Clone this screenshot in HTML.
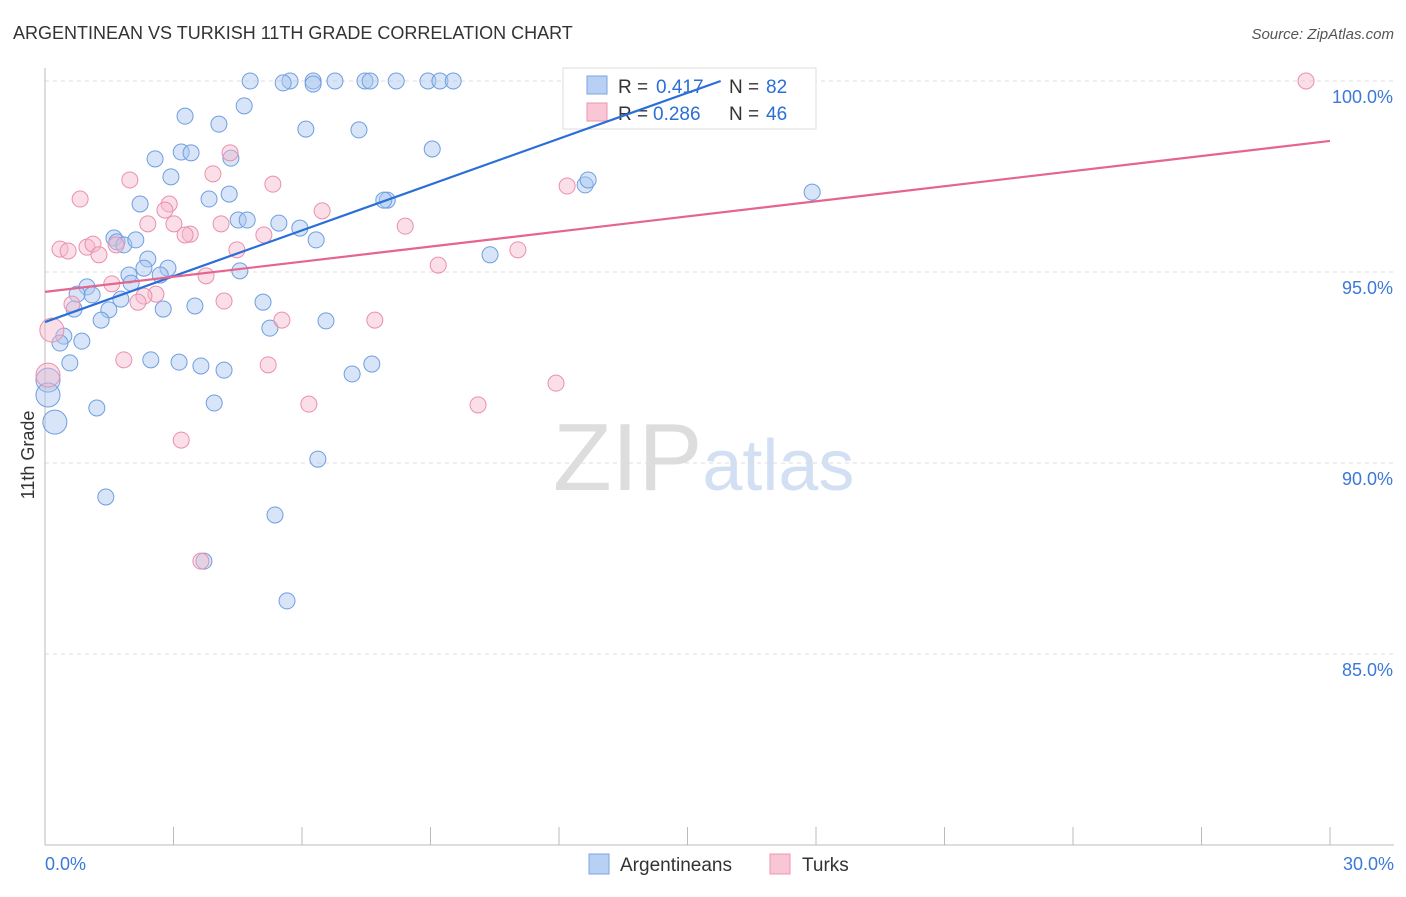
<!DOCTYPE html>
<html><head><meta charset="utf-8"><style>
body{margin:0;background:#fff;font-family:"Liberation Sans",sans-serif;}
svg text{font-family:"Liberation Sans",sans-serif;}
</style></head><body>
<svg id="chart" width="1406" height="892" viewBox="0 0 1406 892" xmlns="http://www.w3.org/2000/svg">
<text x="13" y="39" font-size="18" fill="#333">ARGENTINEAN VS TURKISH 11TH GRADE CORRELATION CHART</text>
<text x="1394" y="39" font-size="15" fill="#555" font-style="italic" text-anchor="end">Source: ZipAtlas.com</text>
<text x="553" y="490" font-size="96" fill="#ddd" font-family="Liberation Serif">ZIP<tspan fill="#d3e0f3" font-family="Liberation Sans" font-size="72">atlas</tspan></text>
<text transform="translate(34,455) rotate(-90)" font-size="18" fill="#333" text-anchor="middle">11th Grade</text>
<g id="grid"></g><g id="axes"></g><g id="pts"></g>
<g>
<rect x="563" y="68" width="253" height="61" fill="#fff" stroke="#ddd"/>
<rect x="587" y="76" width="20" height="18" fill="#b8d0f3" stroke="#7aa4e0"/>
<text x="618" y="93" font-size="19" fill="#333">R =</text>
<text x="656" y="93" font-size="19" fill="#2b6fd6">0.417</text>
<text x="729" y="93" font-size="19" fill="#333">N =</text>
<text x="766" y="93" font-size="19" fill="#2b6fd6">82</text>
<rect x="587" y="103" width="20" height="18" fill="#f8c6d4" stroke="#ec95b0"/>
<text x="618" y="120" font-size="19" fill="#333">R =</text>
<text x="653" y="120" font-size="19" fill="#2b6fd6">0.286</text>
<text x="729" y="120" font-size="19" fill="#333">N =</text>
<text x="766" y="120" font-size="19" fill="#2b6fd6">46</text>
</g>
<g id="lines"></g>
<g>
<rect x="589" y="854" width="20" height="20" fill="#b8d0f3" stroke="#7aa4e0"/>
<text x="620" y="871" font-size="19" fill="#333">Argentineans</text>
<rect x="770" y="854" width="20" height="20" fill="#f8c6d4" stroke="#ec95b0"/>
<text x="802" y="871" font-size="19" fill="#333">Turks</text>
</g>
</svg>
<script>
const blueX=[4.79,5.72,5.56,6.26,6.26,6.77,7.47,7.59,8.20,8.94,9.22,9.53,3.27,4.65,4.06,6.09,7.33,9.04,2.57,3.18,3.41,4.34,2.94,3.83,4.30,2.22,7.99,7.91,12.61,12.68,17.91,4.51,4.72,5.46,5.95,6.33,1.61,1.68,1.84,2.12,2.40,2.31,2.87,1.96,2.69,4.55,2.01,0.98,0.75,1.10,1.77,3.50,2.76,1.49,0.68,5.09,1.31,5.25,6.56,0.44,0.35,0.86,0.58,2.47,3.13,3.64,4.18,7.17,7.63,10.39,0.07,0.07,1.21,3.95,0.23,6.37,1.42,5.37,3.71,5.65];
const blueY=[100,100,99.95,100,99.92,100,100,100,100,100,100,100,99.08,99.35,98.87,98.74,98.72,98.22,97.96,98.14,98.12,97.98,97.49,96.91,97.04,96.78,96.88,96.88,97.28,97.41,97.09,96.36,96.36,96.28,96.15,95.84,95.89,95.79,95.71,95.84,95.34,95.10,95.10,94.92,94.92,95.03,94.71,94.61,94.42,94.40,94.29,94.11,94.03,94.01,94.03,94.21,93.74,93.53,93.72,93.32,93.14,93.19,92.62,92.70,92.64,92.54,92.43,92.33,92.59,95.45,92.17,91.78,91.44,91.57,91.07,90.10,89.11,88.64,87.43,86.39];
const pinkX=[12.30,29.44,4.32,3.92,1.98,5.32,0.82,2.90,2.80,2.40,3.01,4.11,6.47,8.41,3.39,3.27,5.11,0.35,0.54,0.98,1.12,1.26,1.66,4.48,11.04,12.19,9.18,3.76,1.56,2.59,2.31,0.63,2.17,4.18,5.53,7.70,0.16,1.84,5.21,11.93,0.07,6.16,10.11,3.18,3.64];
const pinkY=[100,100,98.12,97.57,97.41,97.30,96.91,96.78,96.62,96.26,96.26,96.26,96.60,96.20,95.99,95.97,95.97,95.60,95.55,95.65,95.73,95.45,95.71,95.58,95.58,97.25,95.18,94.90,94.69,94.42,94.37,94.16,94.21,94.24,93.74,93.74,93.48,92.70,92.57,92.09,92.30,91.54,91.52,90.60,87.43];
const blueLine=[93.69,0.4];
const pinkLine=[94.48,0.1317];
const yTicks=[100,95,90,85];
const xTickLabels=["0.0%","30.0%"];
const NS="http://www.w3.org/2000/svg";
const sx=v=>45+v*1285/30, sy=v=>81+(100-v)*38.2;
function mk(tag,attrs,parent){const e=document.createElementNS(NS,tag);for(const k in attrs)e.setAttribute(k,attrs[k]);document.getElementById(parent).appendChild(e);return e;}
yTicks.forEach(t=>{
 const l=mk('line',{x1:45,x2:1394,y1:sy(t),y2:sy(t),stroke:'#ddd','stroke-dasharray':'4,4'},'grid');
 
 
 const tx=mk('text',{x:1393,y:sy(t)+22,'font-size':18,fill:'#3b78d8','text-anchor':'end'},'grid');
 tx.textContent=t.toFixed(1)+'%';
 
 
});
const ax=mk('line',{x1:45,x2:45,y1:68,y2:845,stroke:'#bbb'},'axes');


const bx=mk('line',{x1:45,x2:1394,y1:845,y2:845,stroke:'#bbb'},'axes');


for(let i=0;i<=10;i++){const t=mk('line',{x1:sx(i*3),x2:sx(i*3),y1:827,y2:845,stroke:'#bbb'},'axes');
 
 }
[[0,'start',45],[30,'end',1394]].forEach((d,i)=>{const t=mk('text',{x:d[2],y:870,'font-size':18,fill:'#3b78d8','text-anchor':d[1]},'axes');t.textContent=xTickLabels[i];
 
 });
function pts(X,Y,fill,stroke,name){X.forEach((x,i)=>{const big=x<0.3;
 const c=mk('circle',{cx:sx(x),cy:sy(Y[i]),r:big?12:8,fill:fill,'fill-opacity':0.45,stroke:stroke,'stroke-width':1},'pts');
 
 });}
pts(blueX,blueY,'#a9c6f0','#6f9ee0','argentinean-point');
pts(pinkX,pinkY,'#f6b8cb','#ea90ac','turk-point');
const bEnd=(100-blueLine[0])/blueLine[1];
const bl=mk('line',{x1:sx(0),y1:sy(blueLine[0]),x2:sx(bEnd),y2:sy(100),stroke:'#2a6fd8','stroke-width':2.2},'lines');


const pl=mk('line',{x1:sx(0),y1:sy(pinkLine[0]),x2:sx(30),y2:sy(pinkLine[0]+30*pinkLine[1]),stroke:'#e4658e','stroke-width':2.2},'lines');


</script>
</body></html>
